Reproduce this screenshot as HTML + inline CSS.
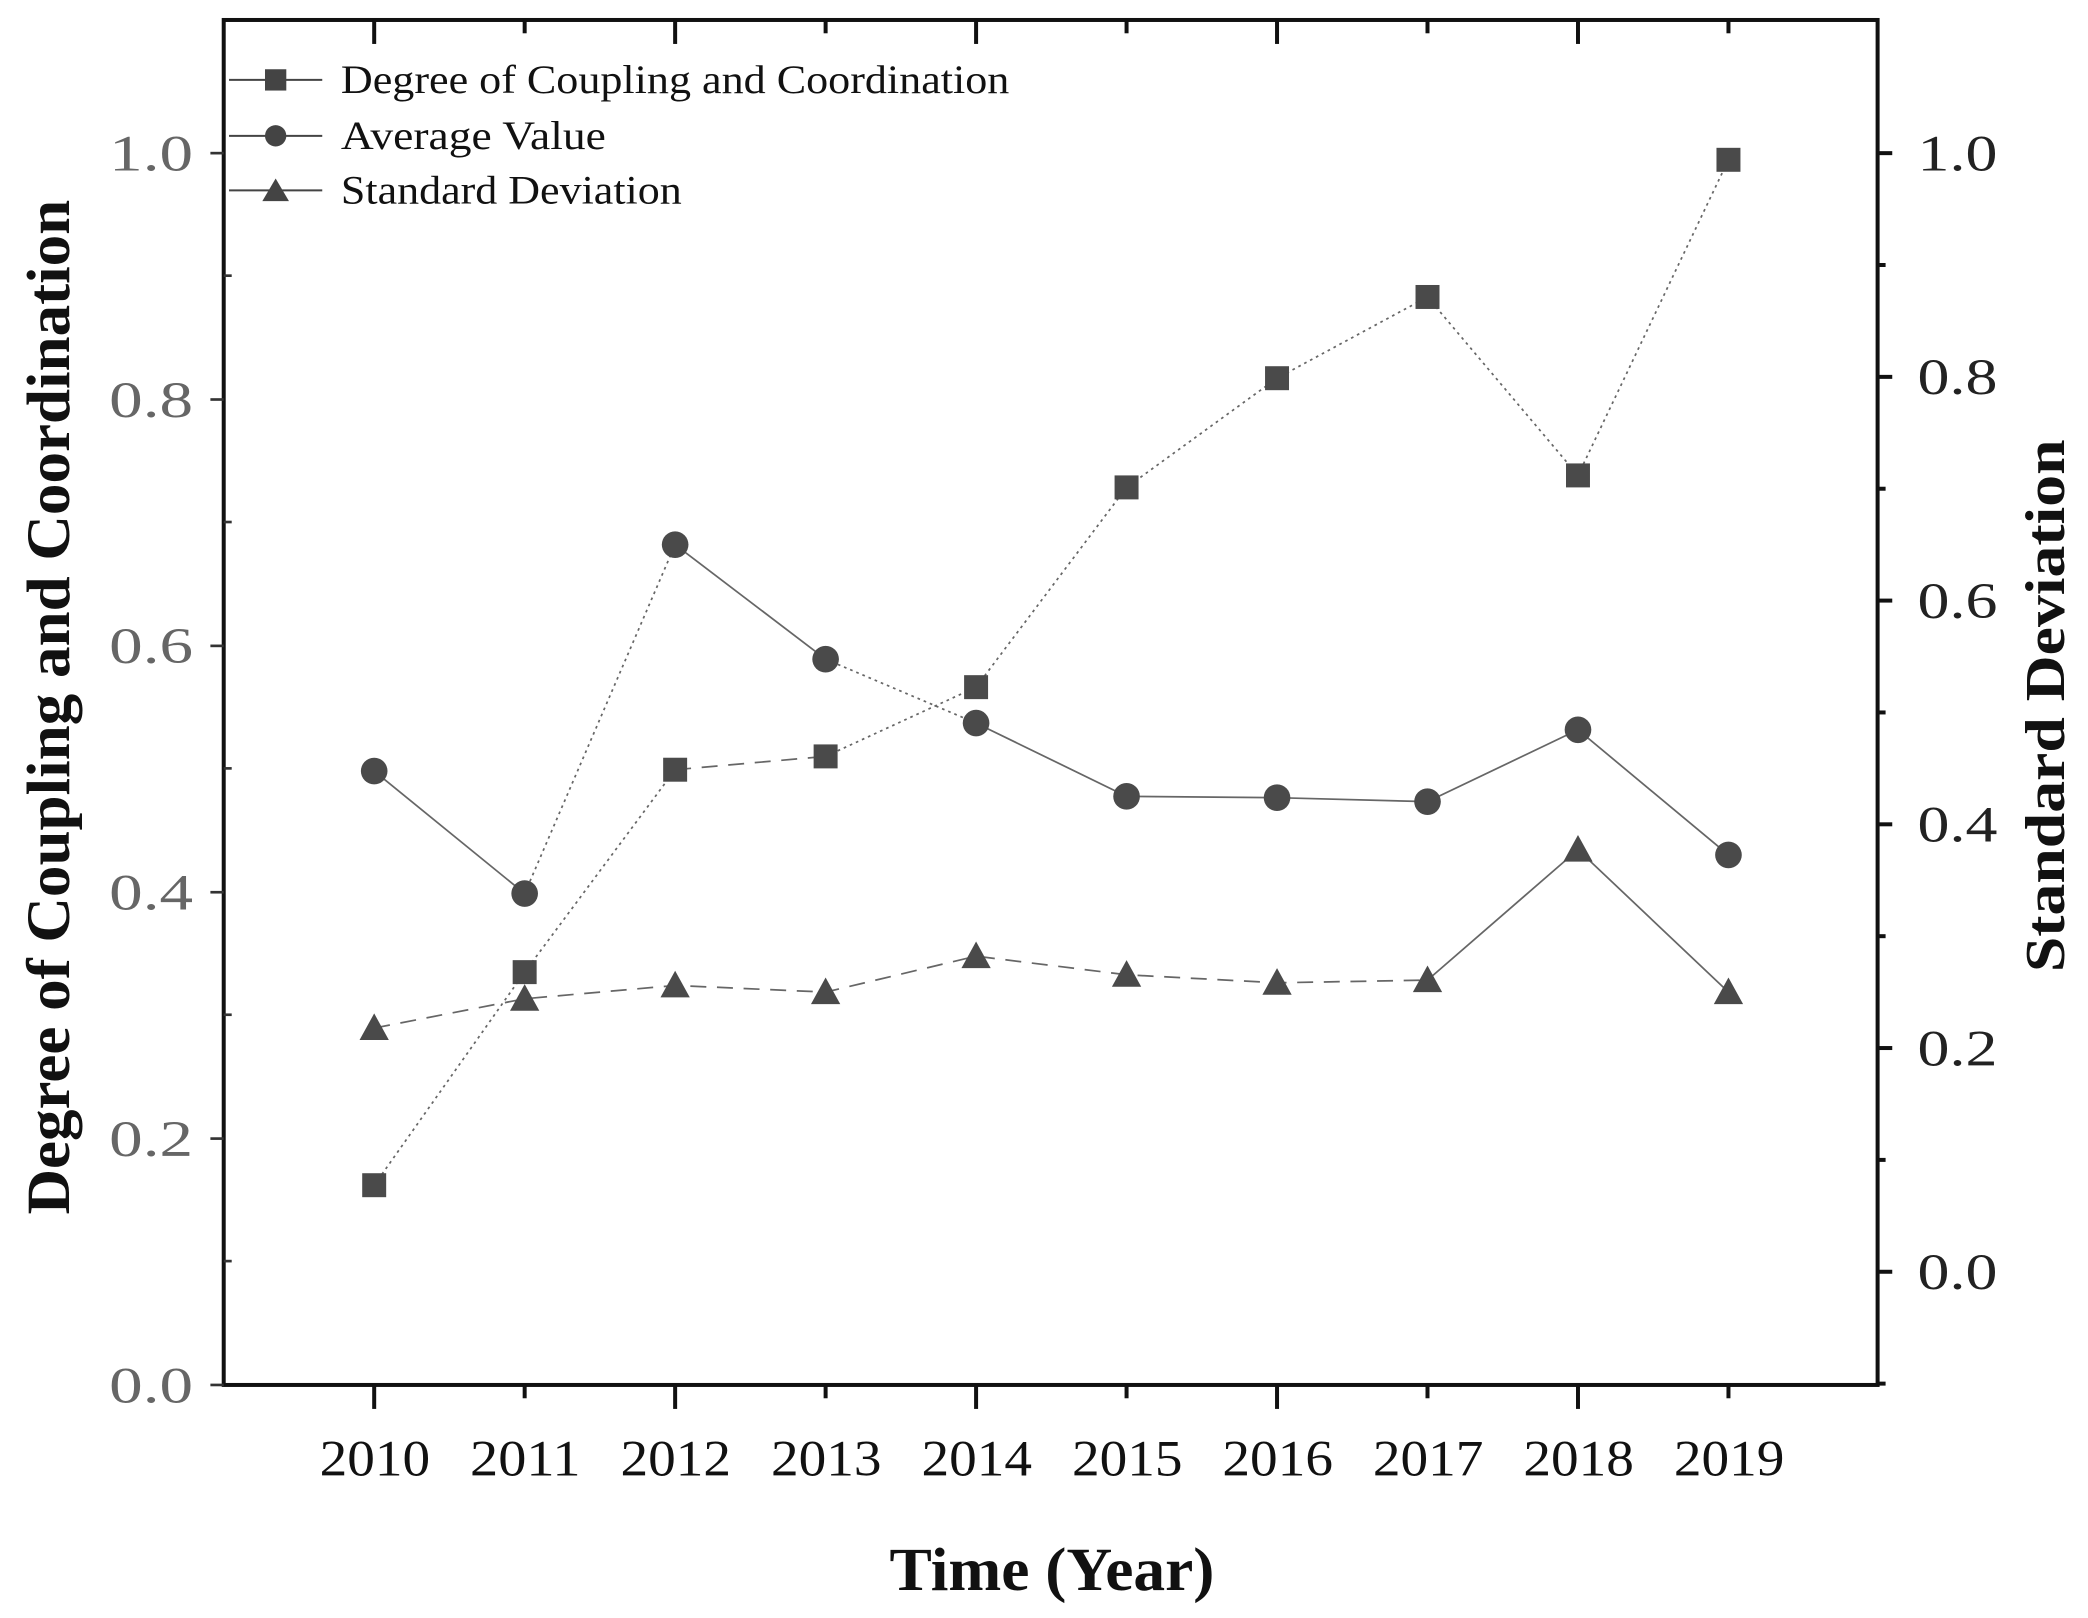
<!DOCTYPE html>
<html><head><meta charset="utf-8"><style>html,body{margin:0;padding:0;background:#fff}svg{display:block}</style></head>
<body>
<svg width="2088" height="1618" viewBox="0 0 1568 1215" preserveAspectRatio="none" xmlns="http://www.w3.org/2000/svg" font-family="'Liberation Serif', serif">
<rect width="1568" height="1215" fill="#fff"/>
<rect x="168" y="15" width="1242" height="1025" fill="none" stroke="#111" stroke-width="3"/>
<g stroke="#333" stroke-width="2">
<line x1="158" y1="115" x2="168" y2="115"/><line x1="158" y1="300" x2="168" y2="300"/><line x1="158" y1="485" x2="168" y2="485"/><line x1="158" y1="670" x2="168" y2="670"/><line x1="158" y1="855" x2="168" y2="855"/><line x1="158" y1="1040" x2="168" y2="1040"/>
<line x1="168" y1="207" x2="174" y2="207"/><line x1="168" y1="392" x2="174" y2="392"/><line x1="168" y1="577" x2="174" y2="577"/><line x1="168" y1="762" x2="174" y2="762"/><line x1="168" y1="947" x2="174" y2="947"/>
</g>
<g stroke="#111" stroke-width="3">
<line x1="1410" y1="115" x2="1421" y2="115"/><line x1="1410" y1="283" x2="1421" y2="283"/><line x1="1410" y1="451" x2="1421" y2="451"/><line x1="1410" y1="619" x2="1421" y2="619"/><line x1="1410" y1="787" x2="1421" y2="787"/><line x1="1410" y1="955" x2="1421" y2="955"/>
<line x1="1410" y1="199" x2="1416" y2="199"/><line x1="1410" y1="367" x2="1416" y2="367"/><line x1="1410" y1="535" x2="1416" y2="535"/><line x1="1410" y1="703" x2="1416" y2="703"/><line x1="1410" y1="871" x2="1416" y2="871"/><line x1="1410" y1="1039" x2="1416" y2="1039"/>
</g>
<g stroke="#111" stroke-width="3">
<line x1="281" y1="1040" x2="281" y2="1058"/><line x1="394" y1="1040" x2="394" y2="1050"/><line x1="507" y1="1040" x2="507" y2="1058"/><line x1="620" y1="1040" x2="620" y2="1050"/><line x1="733" y1="1040" x2="733" y2="1058"/><line x1="846" y1="1040" x2="846" y2="1050"/><line x1="959" y1="1040" x2="959" y2="1058"/><line x1="1072" y1="1040" x2="1072" y2="1050"/><line x1="1185" y1="1040" x2="1185" y2="1058"/><line x1="1298" y1="1040" x2="1298" y2="1050"/>
<line x1="281" y1="15" x2="281" y2="33"/><line x1="394" y1="15" x2="394" y2="25"/><line x1="507" y1="15" x2="507" y2="33"/><line x1="620" y1="15" x2="620" y2="25"/><line x1="733" y1="15" x2="733" y2="33"/><line x1="846" y1="15" x2="846" y2="25"/><line x1="959" y1="15" x2="959" y2="33"/><line x1="1072" y1="15" x2="1072" y2="25"/><line x1="1185" y1="15" x2="1185" y2="33"/><line x1="1298" y1="15" x2="1298" y2="25"/>
</g>
<g fill="#666" font-size="38" lengthAdjust="spacingAndGlyphs">
<text x="82" y="128" textLength="63" lengthAdjust="spacingAndGlyphs">1.0</text><text x="82" y="313" textLength="63" lengthAdjust="spacingAndGlyphs">0.8</text><text x="82" y="498" textLength="63" lengthAdjust="spacingAndGlyphs">0.6</text><text x="82" y="683" textLength="63" lengthAdjust="spacingAndGlyphs">0.4</text><text x="82" y="868" textLength="63" lengthAdjust="spacingAndGlyphs">0.2</text><text x="82" y="1053" textLength="63" lengthAdjust="spacingAndGlyphs">0.0</text>
</g>
<g fill="#222" font-size="38">
<text x="1440" y="128" textLength="60" lengthAdjust="spacingAndGlyphs">1.0</text><text x="1440" y="296" textLength="60" lengthAdjust="spacingAndGlyphs">0.8</text><text x="1440" y="464" textLength="60" lengthAdjust="spacingAndGlyphs">0.6</text><text x="1440" y="632" textLength="60" lengthAdjust="spacingAndGlyphs">0.4</text><text x="1440" y="800" textLength="60" lengthAdjust="spacingAndGlyphs">0.2</text><text x="1440" y="968" textLength="60" lengthAdjust="spacingAndGlyphs">0.0</text>
</g>
<g fill="#111" font-size="38">
<text x="240" y="1108" textLength="83" lengthAdjust="spacingAndGlyphs">2010</text><text x="353" y="1108" textLength="83" lengthAdjust="spacingAndGlyphs">2011</text><text x="466" y="1108" textLength="83" lengthAdjust="spacingAndGlyphs">2012</text><text x="579" y="1108" textLength="83" lengthAdjust="spacingAndGlyphs">2013</text><text x="692" y="1108" textLength="83" lengthAdjust="spacingAndGlyphs">2014</text><text x="805" y="1108" textLength="83" lengthAdjust="spacingAndGlyphs">2015</text><text x="918" y="1108" textLength="83" lengthAdjust="spacingAndGlyphs">2016</text><text x="1031" y="1108" textLength="83" lengthAdjust="spacingAndGlyphs">2017</text><text x="1144" y="1108" textLength="83" lengthAdjust="spacingAndGlyphs">2018</text><text x="1257" y="1108" textLength="83" lengthAdjust="spacingAndGlyphs">2019</text>
</g>
<text x="668" y="1194" font-size="46" font-weight="bold" fill="#111" textLength="244" lengthAdjust="spacingAndGlyphs">Time (Year)</text>
<text transform="translate(52,912) rotate(-90)" font-size="46" font-weight="bold" fill="#111" textLength="762" lengthAdjust="spacingAndGlyphs">Degree of Coupling and Coordination</text>
<text transform="translate(1550,730) rotate(-90)" font-size="42" font-weight="bold" fill="#111" textLength="400" lengthAdjust="spacingAndGlyphs">Standard Deviation</text>
<g fill="none" stroke="#666" stroke-width="1.3">
<polyline stroke-dasharray="2,3" points="281,890 394,730 507,578"/>
<polyline stroke-dasharray="12,8" points="507,578 620,568"/>
<polyline stroke-dasharray="2,3" points="620,568 733,516 846,366 959,284 1072,223 1185,357 1298,120"/>
<polyline points="281,579 394,671"/>
<polyline stroke-dasharray="2,3" points="394,671 507,409"/>
<polyline points="507,409 620,495"/>
<polyline stroke-dasharray="2,3" points="620,495 733,543"/>
<polyline points="733,543 846,598 959,599 1072,602 1185,548 1298,642"/>
<polyline stroke-dasharray="12,8" points="281,772 394,750 507,740 620,745 733,718 846,732 959,738 1072,736"/>
<polyline points="1072,736 1185,638 1298,745"/>
</g>
<g fill="#4a4a4a">
<rect x="272" y="881" width="18" height="18"/><rect x="385" y="721" width="18" height="18"/><rect x="498" y="569" width="18" height="18"/><rect x="611" y="559" width="18" height="18"/><rect x="724" y="507" width="18" height="18"/><rect x="837" y="357" width="18" height="18"/><rect x="950" y="275" width="18" height="18"/><rect x="1063" y="214" width="18" height="18"/><rect x="1176" y="348" width="18" height="18"/><rect x="1289" y="111" width="18" height="18"/>
<circle cx="281" cy="579" r="10"/><circle cx="394" cy="671" r="10"/><circle cx="507" cy="409" r="10"/><circle cx="620" cy="495" r="10"/><circle cx="733" cy="543" r="10"/><circle cx="846" cy="598" r="10"/><circle cx="959" cy="599" r="10"/><circle cx="1072" cy="602" r="10"/><circle cx="1185" cy="548" r="10"/><circle cx="1298" cy="642" r="10"/>
<polygon points="281,761 270,781 292,781"/><polygon points="394,739 383,759 405,759"/><polygon points="507,729 496,749 518,749"/><polygon points="620,734 609,754 631,754"/><polygon points="733,707 722,727 744,727"/><polygon points="846,721 835,741 857,741"/><polygon points="959,727 948,747 970,747"/><polygon points="1072,725 1061,745 1083,745"/><polygon points="1185,627 1174,647 1196,647"/><polygon points="1298,734 1287,754 1309,754"/>
</g>
<g stroke="#444" stroke-width="1.5">
<line x1="172" y1="60" x2="242" y2="60"/><line x1="172" y1="102" x2="242" y2="102"/><line x1="172" y1="143" x2="242" y2="143"/>
</g>
<g fill="#444">
<rect x="199" y="52" width="16" height="16"/><circle cx="207" cy="102" r="8"/><polygon points="207,134 197,151 217,151"/>
</g>
<g fill="#111" font-size="30">
<text x="256" y="70" textLength="502" lengthAdjust="spacingAndGlyphs">Degree of Coupling and Coordination</text>
<text x="256" y="112" textLength="199" lengthAdjust="spacingAndGlyphs">Average Value</text>
<text x="256" y="153" textLength="256" lengthAdjust="spacingAndGlyphs">Standard Deviation</text>
</g>
</svg>
</body></html>
